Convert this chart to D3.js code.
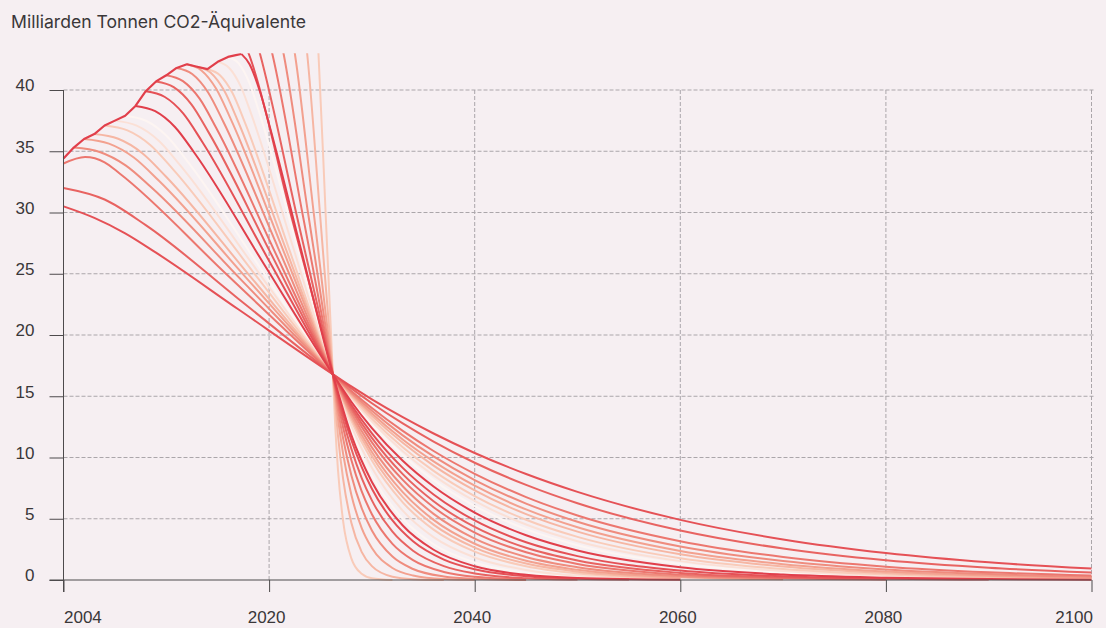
<!DOCTYPE html>
<html>
<head>
<meta charset="utf-8">
<script src="https://cdn.jsdelivr.net/npm/d3@7"></script>
<style>
	body { margin: 0; background: #f6eff2; }
	svg { display: block; font-family: Inter, "Noto Sans", sans-serif; }
</style>
</head>
<body>
<svg id="chart" width="1106" height="628"></svg>
<script>
const title = "Milliarden Tonnen CO2-Äquivalente";

const yTicks = [0, 5, 10, 15, 20, 25, 30, 35, 40];
const xTicks = [2000, 2020, 2040, 2060, 2080, 2100];
const xTickLabels = ["2004", "2020", "2040", "2060", "2080", "2100"];

// observed emissions, [year, value]
const history = [[2000, 34.4], [2001, 35.3], [2002, 36.0], [2003, 36.4], [2004, 37.1], [2005, 37.5], [2006, 37.9], [2007, 38.7], [2008, 39.9], [2009, 40.7], [2010, 41.2], [2011, 41.8], [2012, 42.1], [2013, 41.9], [2014, 41.7], [2015, 42.3], [2016, 42.7], [2017.3, 42.95]];

// reduction pathways, one per start year, [year, value]
const path1998 = [[2000, 30.5], [2003, 29.56], [2006, 28.3], [2009, 26.72], [2017, 22.1], [2026.2, 16.8], [2028, 15.8], [2030, 14.75], [2033, 13.29], [2036, 11.96], [2040, 10.37], [2045, 8.65], [2050, 7.19], [2060, 4.91], [2070, 3.31], [2080, 2.2], [2090, 1.44], [2100, 0.93]];
const path1999 = [[2000, 32.0], [2004, 31.06], [2008, 28.97], [2017, 22.96], [2026.2, 16.8], [2028, 15.64], [2030, 14.43], [2033, 12.78], [2036, 11.3], [2040, 9.57], [2045, 7.76], [2050, 6.26], [2060, 4.04], [2070, 2.57], [2080, 1.61], [2090, 1.0], [2100, 0.61]];
const path2000 = [[2000, 34.0], [2002.1, 34.53], [2004, 34.1], [2005.43, 33.21], [2015.8, 25.0], [2026.2, 16.8], [2028, 15.43], [2030, 14.04], [2033, 12.17], [2036, 10.53], [2040, 8.67], [2045, 6.77], [2050, 5.27], [2060, 3.17], [2070, 1.88], [2080, 1.09], [2090, 0.63], [2100, 0.36]];
const path2001 = [[2001, 35.3], [2003.52, 34.94], [2006.04, 33.85], [2008.56, 32.04], [2017.38, 24.42], [2026.2, 16.8], [2028, 15.31], [2030, 13.81], [2033, 11.81], [2036, 10.09], [2040, 8.16], [2045, 6.24], [2050, 4.75], [2060, 2.73], [2070, 1.55], [2080, 0.86], [2090, 0.48], [2100, 0.26]];
const path2002 = [[2002, 36.0], [2004.42, 35.62], [2006.84, 34.49], [2009.26, 32.61], [2017.73, 24.71], [2026.2, 16.8], [2028, 15.2], [2030, 13.59], [2033, 11.47], [2036, 9.68], [2040, 7.7], [2045, 5.76], [2050, 4.3], [2060, 2.37], [2070, 1.29], [2080, 0.69], [2090, 0.36], [2100, 0.19]];
const path2003 = [[2003, 36.4], [2005.32, 36.02], [2007.64, 34.86], [2009.96, 32.94], [2018.08, 24.87], [2026.2, 16.8], [2028, 15.1], [2030, 13.4], [2033, 11.2], [2036, 9.34], [2040, 7.32], [2045, 5.38], [2050, 3.95], [2060, 2.1], [2070, 1.1], [2080, 0.57], [2090, 0.29], [2100, 0.15]];
const path2004 = [[2004, 37.1], [2006.22, 36.7], [2008.44, 35.51], [2010.66, 33.52], [2018.43, 25.16], [2026.2, 16.8], [2028, 14.97], [2030, 13.16], [2033, 10.84], [2036, 8.91], [2040, 6.85], [2045, 4.92], [2050, 3.52], [2060, 1.78], [2070, 0.89], [2080, 0.44], [2090, 0.21], [2100, 0.1]];
const path2005 = [[2005, 37.5], [2007.12, 37.09], [2009.24, 35.88], [2011.36, 33.85], [2018.78, 25.32], [2026.2, 16.8], [2028, 14.85], [2030, 12.94], [2033, 10.52], [2036, 8.54], [2040, 6.45], [2045, 4.53], [2050, 3.17], [2060, 1.54], [2070, 0.73], [2080, 0.35], [2090, 0.16], [2100, 0.07]];
const path2006 = [[2006, 37.9], [2008.02, 37.49], [2010.04, 36.25], [2012.06, 34.18], [2019.13, 25.49], [2026.2, 16.8], [2028, 14.73], [2030, 12.71], [2033, 10.19], [2036, 8.15], [2040, 6.04], [2045, 4.15], [2050, 2.84], [2060, 1.31], [2070, 0.6], [2080, 0.27], [2090, 0.12], [2100, 0.05]];
const path2007 = [[2007, 38.7], [2008.92, 38.27], [2010.84, 36.98], [2012.76, 34.84], [2019.48, 25.82], [2026.2, 16.8], [2028, 14.55], [2030, 12.39], [2033, 9.73], [2036, 7.63], [2040, 5.5], [2045, 3.65], [2050, 2.41], [2060, 1.04], [2070, 0.44], [2080, 0.19], [2090, 0.08], [2100, 0.03]];
const path2008 = [[2008, 39.9], [2009.82, 39.45], [2011.64, 38.09], [2013.46, 35.82], [2019.83, 26.31], [2026.2, 16.8], [2028, 14.31], [2030, 11.97], [2033, 9.15], [2036, 6.98], [2040, 4.86], [2045, 3.08], [2050, 1.95], [2060, 0.77], [2070, 0.3], [2080, 0.11], [2090, 0.04]];
const path2009 = [[2009, 40.7], [2010.72, 40.23], [2012.44, 38.83], [2014.16, 36.48], [2020.18, 26.64], [2026.2, 16.8], [2028, 14.1], [2030, 11.6], [2033, 8.64], [2036, 6.43], [2040, 4.33], [2045, 2.63], [2050, 1.59], [2060, 0.58], [2070, 0.21], [2080, 0.07]];
const path2010 = [[2010, 41.2], [2011.62, 40.72], [2013.24, 39.29], [2014.86, 36.89], [2020.53, 26.85], [2026.2, 16.8], [2028, 13.89], [2030, 11.24], [2033, 8.17], [2036, 5.94], [2040, 3.87], [2045, 2.26], [2050, 1.31], [2060, 0.44], [2070, 0.14], [2080, 0.05]];
const path2011 = [[2011, 41.8], [2012.52, 41.31], [2014.04, 39.84], [2015.56, 37.39], [2020.88, 27.1], [2026.2, 16.8], [2028, 13.65], [2030, 10.83], [2033, 7.65], [2036, 5.4], [2040, 3.38], [2045, 1.88], [2050, 1.04], [2060, 0.32], [2070, 0.09]];
const path2012 = [[2012, 42.1], [2013.42, 41.6], [2014.84, 40.12], [2016.26, 37.64], [2021.23, 27.22], [2026.2, 16.8], [2028, 13.42], [2030, 10.45], [2033, 7.17], [2036, 4.91], [2040, 2.96], [2045, 1.57], [2050, 0.83], [2060, 0.23], [2070, 0.06]];
const path2013 = [[2013, 41.9], [2014.32, 41.41], [2015.64, 39.93], [2016.96, 37.47], [2021.58, 27.14], [2026.2, 16.8], [2028, 13.22], [2030, 10.12], [2033, 6.77], [2036, 4.52], [2040, 2.64], [2045, 1.34], [2050, 0.68], [2060, 0.17]];
const path2014 = [[2014, 41.7], [2015.22, 41.21], [2016.44, 39.75], [2017.66, 37.31], [2021.93, 27.05], [2026.2, 16.8], [2028, 12.99], [2030, 9.75], [2033, 6.34], [2036, 4.11], [2040, 2.31], [2045, 1.12], [2050, 0.54], [2060, 0.12]];
const path2015 = [[2015, 42.3], [2016.12, 41.8], [2017.24, 40.3], [2018.36, 37.8], [2022.28, 27.3], [2026.2, 16.8], [2028, 12.61], [2030, 9.16], [2033, 5.66], [2036, 3.5], [2040, 1.84], [2045, 0.82], [2050, 0.36], [2060, 0.07]];
const path2016 = [[2016, 42.7], [2017.02, 42.19], [2018.04, 40.67], [2019.06, 38.13], [2022.63, 27.47], [2026.2, 16.8], [2028, 12.2], [2030, 8.54], [2033, 5.0], [2036, 2.92], [2040, 1.43], [2045, 0.58], [2050, 0.23], [2060, 0.04]];
const path2017 = [[2017.3, 42.95], [2018.1, 42.1], [2019.1, 39.9], [2020.1, 36.9], [2023.1, 27.0], [2026.2, 16.8], [2028, 11.82], [2030, 8.0], [2033, 4.45], [2036, 2.47], [2040, 1.12], [2045, 0.42], [2050, 0.16], [2060, 0.02]];
const path2018 = [[2017.5, 44.0], [2018.0, 43.0], [2022.1, 29.9], [2026.2, 16.8], [2026.7, 15.09], [2027.2, 13.56], [2028, 11.43], [2029, 9.23], [2030, 7.45], [2032, 4.86], [2034, 3.16], [2037, 1.67], [2040, 0.88], [2045, 0.3], [2050, 0.1], [2055, 0.04]];
const path2019 = [[2018.6, 44.5], [2019.1, 43.0], [2022.65, 29.9], [2026.2, 16.8], [2026.7, 14.83], [2027.2, 13.08], [2028, 10.71], [2029, 8.34], [2030, 6.5], [2032, 3.94], [2034, 2.39], [2037, 1.13], [2040, 0.53], [2045, 0.15], [2050, 0.04]];
const path2020 = [[2019.8, 44.7], [2020.3, 43.0], [2023.25, 29.9], [2026.2, 16.8], [2026.7, 14.46], [2027.2, 12.45], [2028, 9.79], [2029, 7.25], [2030, 5.37], [2032, 2.95], [2034, 1.62], [2037, 0.66], [2040, 0.27], [2045, 0.06]];
const path2021 = [[2020.9, 45.0], [2021.4, 43.0], [2023.8, 29.9], [2026.2, 16.8], [2026.7, 13.93], [2027.2, 11.55], [2028, 8.55], [2029, 5.88], [2030, 4.04], [2032, 1.91], [2034, 0.9], [2037, 0.29], [2040, 0.1], [2045, 0.01]];
const path2022 = [[2022.0, 45.5], [2022.5, 43.0], [2024.35, 29.9], [2026.2, 16.8], [2026.7, 13.15], [2027.2, 10.29], [2028, 6.96], [2029, 4.26], [2030, 2.61], [2032, 0.98], [2034, 0.37], [2037, 0.08], [2040, 0.02]];
const path2023 = [[2023.3, 46.0], [2023.7, 43.0], [2024.95, 29.9], [2026.2, 16.8], [2026.7, 11.78], [2027.2, 8.26], [2028, 4.68], [2029, 2.3], [2030, 1.13], [2032, 0.27], [2034, 0.07], [2037, 0.01]];
const path2024 = [[2024.5, 47.0], [2024.8, 43.0], [2025.5, 29.9], [2026.2, 16.8], [2026.45, 12.29], [2026.7, 8.99], [2027.2, 4.81], [2028, 1.77], [2029, 0.51], [2030, 0.15], [2032, 0.01]];

const startYears = [1998, 1999, 2000, 2001, 2002, 2003, 2004, 2005, 2006, 2007, 2008, 2009, 2010, 2011, 2012, 2013, 2014, 2015, 2016, 2017, 2018, 2019, 2020, 2021, 2022, 2023, 2024];
const pathways = [path1998, path1999, path2000, path2001, path2002, path2003, path2004, path2005, path2006, path2007, path2008, path2009, path2010, path2011, path2012, path2013, path2014, path2015, path2016, path2017, path2018, path2019, path2020, path2021, path2022, path2023, path2024];


const svg = d3.select("#chart");
const x = d3.scaleLinear().domain([2000, 2100]).range([63.5, 1091.5]);
const y = d3.scaleLinear().domain([0, 43]).range([580, 53.25]);

const axisColor = "#4d4a4c";
const textColor = "#3a3739";
const gridColor = "#aba6aa";

// colour steps through the decade: dark red for years ending in 7, almost white for 6
const shade = d3.piecewise(d3.interpolateRgb, ["#e13f4b", "#e96764", "#f19685", "#f8c6b2", "#fdf5f2"]);
function pathColor(year) {
	let k = ((year - 2007) % 10 + 10) % 10;
	return shade(k / 9);
}

svg.append("text")
	.attr("x", 11)
	.attr("y", 28)
	.attr("font-size", 17.6)
	.attr("fill", textColor)
	.text(title);

// grid
svg.append("g")
	.selectAll("line")
	.data(yTicks.filter(d => d > 0))
	.join("line")
	.attr("x1", x(2000))
	.attr("x2", x(2100) + 4)
	.attr("y1", d => y(d))
	.attr("y2", d => y(d))
	.attr("stroke", gridColor)
	.attr("stroke-width", 1)
	.attr("stroke-dasharray", "4,2");

svg.append("g")
	.selectAll("line")
	.data(xTicks.filter(d => d > 2000))
	.join("line")
	.attr("x1", d => x(d))
	.attr("x2", d => x(d))
	.attr("y1", y(40))
	.attr("y2", y(0))
	.attr("stroke", gridColor)
	.attr("stroke-width", 1)
	.attr("stroke-dasharray", "4,2");

// lines
svg.append("clipPath")
	.attr("id", "plot-clip")
	.append("rect")
	.attr("x", x(2000) - 1)
	.attr("y", y(43))
	.attr("width", x(2100) - x(2000) + 2)
	.attr("height", y(0) - y(43) + 2);

const line = d3.line()
	.x(d => x(d[0]))
	.y(d => y(d[1]))
	.curve(d3.curveMonotoneX);

let order = d3.range(pathways.length).sort((a, b) => {
	let ka = ((startYears[a] - 2007) % 10 + 10) % 10;
	let kb = ((startYears[b] - 2007) % 10 + 10) % 10;
	return kb - ka || a - b;
});

let plot = svg.append("g").attr("clip-path", "url(#plot-clip)");

plot.selectAll("path.pathway")
	.data(order)
	.join("path")
	.attr("class", "pathway")
	.attr("d", i => line(pathways[i]))
	.attr("fill", "none")
	.attr("stroke", i => pathColor(startYears[i]))
	.attr("stroke-width", 2)
	.attr("stroke-linejoin", "round");

plot.append("path")
	.attr("d", d3.line().x(d => x(d[0])).y(d => y(d[1]))(history))
	.attr("fill", "none")
	.attr("stroke", pathColor(2017))
	.attr("stroke-width", 2.2)
	.attr("stroke-linejoin", "round");

// axes
let yAxis = svg.append("g")
	.attr("transform", `translate(${x(2000)},0)`)
	.call(d3.axisLeft(y).tickValues(yTicks).tickSize(14).tickPadding(15).tickFormat(d3.format("d")));
yAxis.select(".domain").remove();
yAxis.selectAll("line").attr("stroke", axisColor);
yAxis.selectAll("text")
	.attr("dy", "0.05em")
	.attr("font-size", 17)
	.attr("font-family", null)
	.attr("fill", textColor);

let xAxis = svg.append("g")
	.attr("transform", `translate(0,${y(0)})`)
	.call(d3.axisBottom(x).tickValues(xTicks).tickSize(12).tickPadding(19).tickFormat((d, i) => xTickLabels[i]));
xAxis.select(".domain").remove();
xAxis.selectAll("line").attr("stroke", axisColor);
xAxis.selectAll("text")
	.attr("font-size", 17)
	.attr("font-family", null)
	.attr("fill", textColor)
	.attr("text-anchor", (d, i) => i == 0 ? "start" : i == xTicks.length - 1 ? "end" : "middle")
	.attr("dx", (d, i) => i == 0 ? 0 : i == xTicks.length - 1 ? 1 : -3);

svg.append("line")
	.attr("x1", x(2000) - 14)
	.attr("x2", x(2100))
	.attr("y1", y(0))
	.attr("y2", y(0))
	.attr("stroke", axisColor);

svg.append("line")
	.attr("x1", x(2000))
	.attr("x2", x(2000))
	.attr("y1", y(40))
	.attr("y2", y(0) + 12)
	.attr("stroke", axisColor);
</script>
</body>
</html>
